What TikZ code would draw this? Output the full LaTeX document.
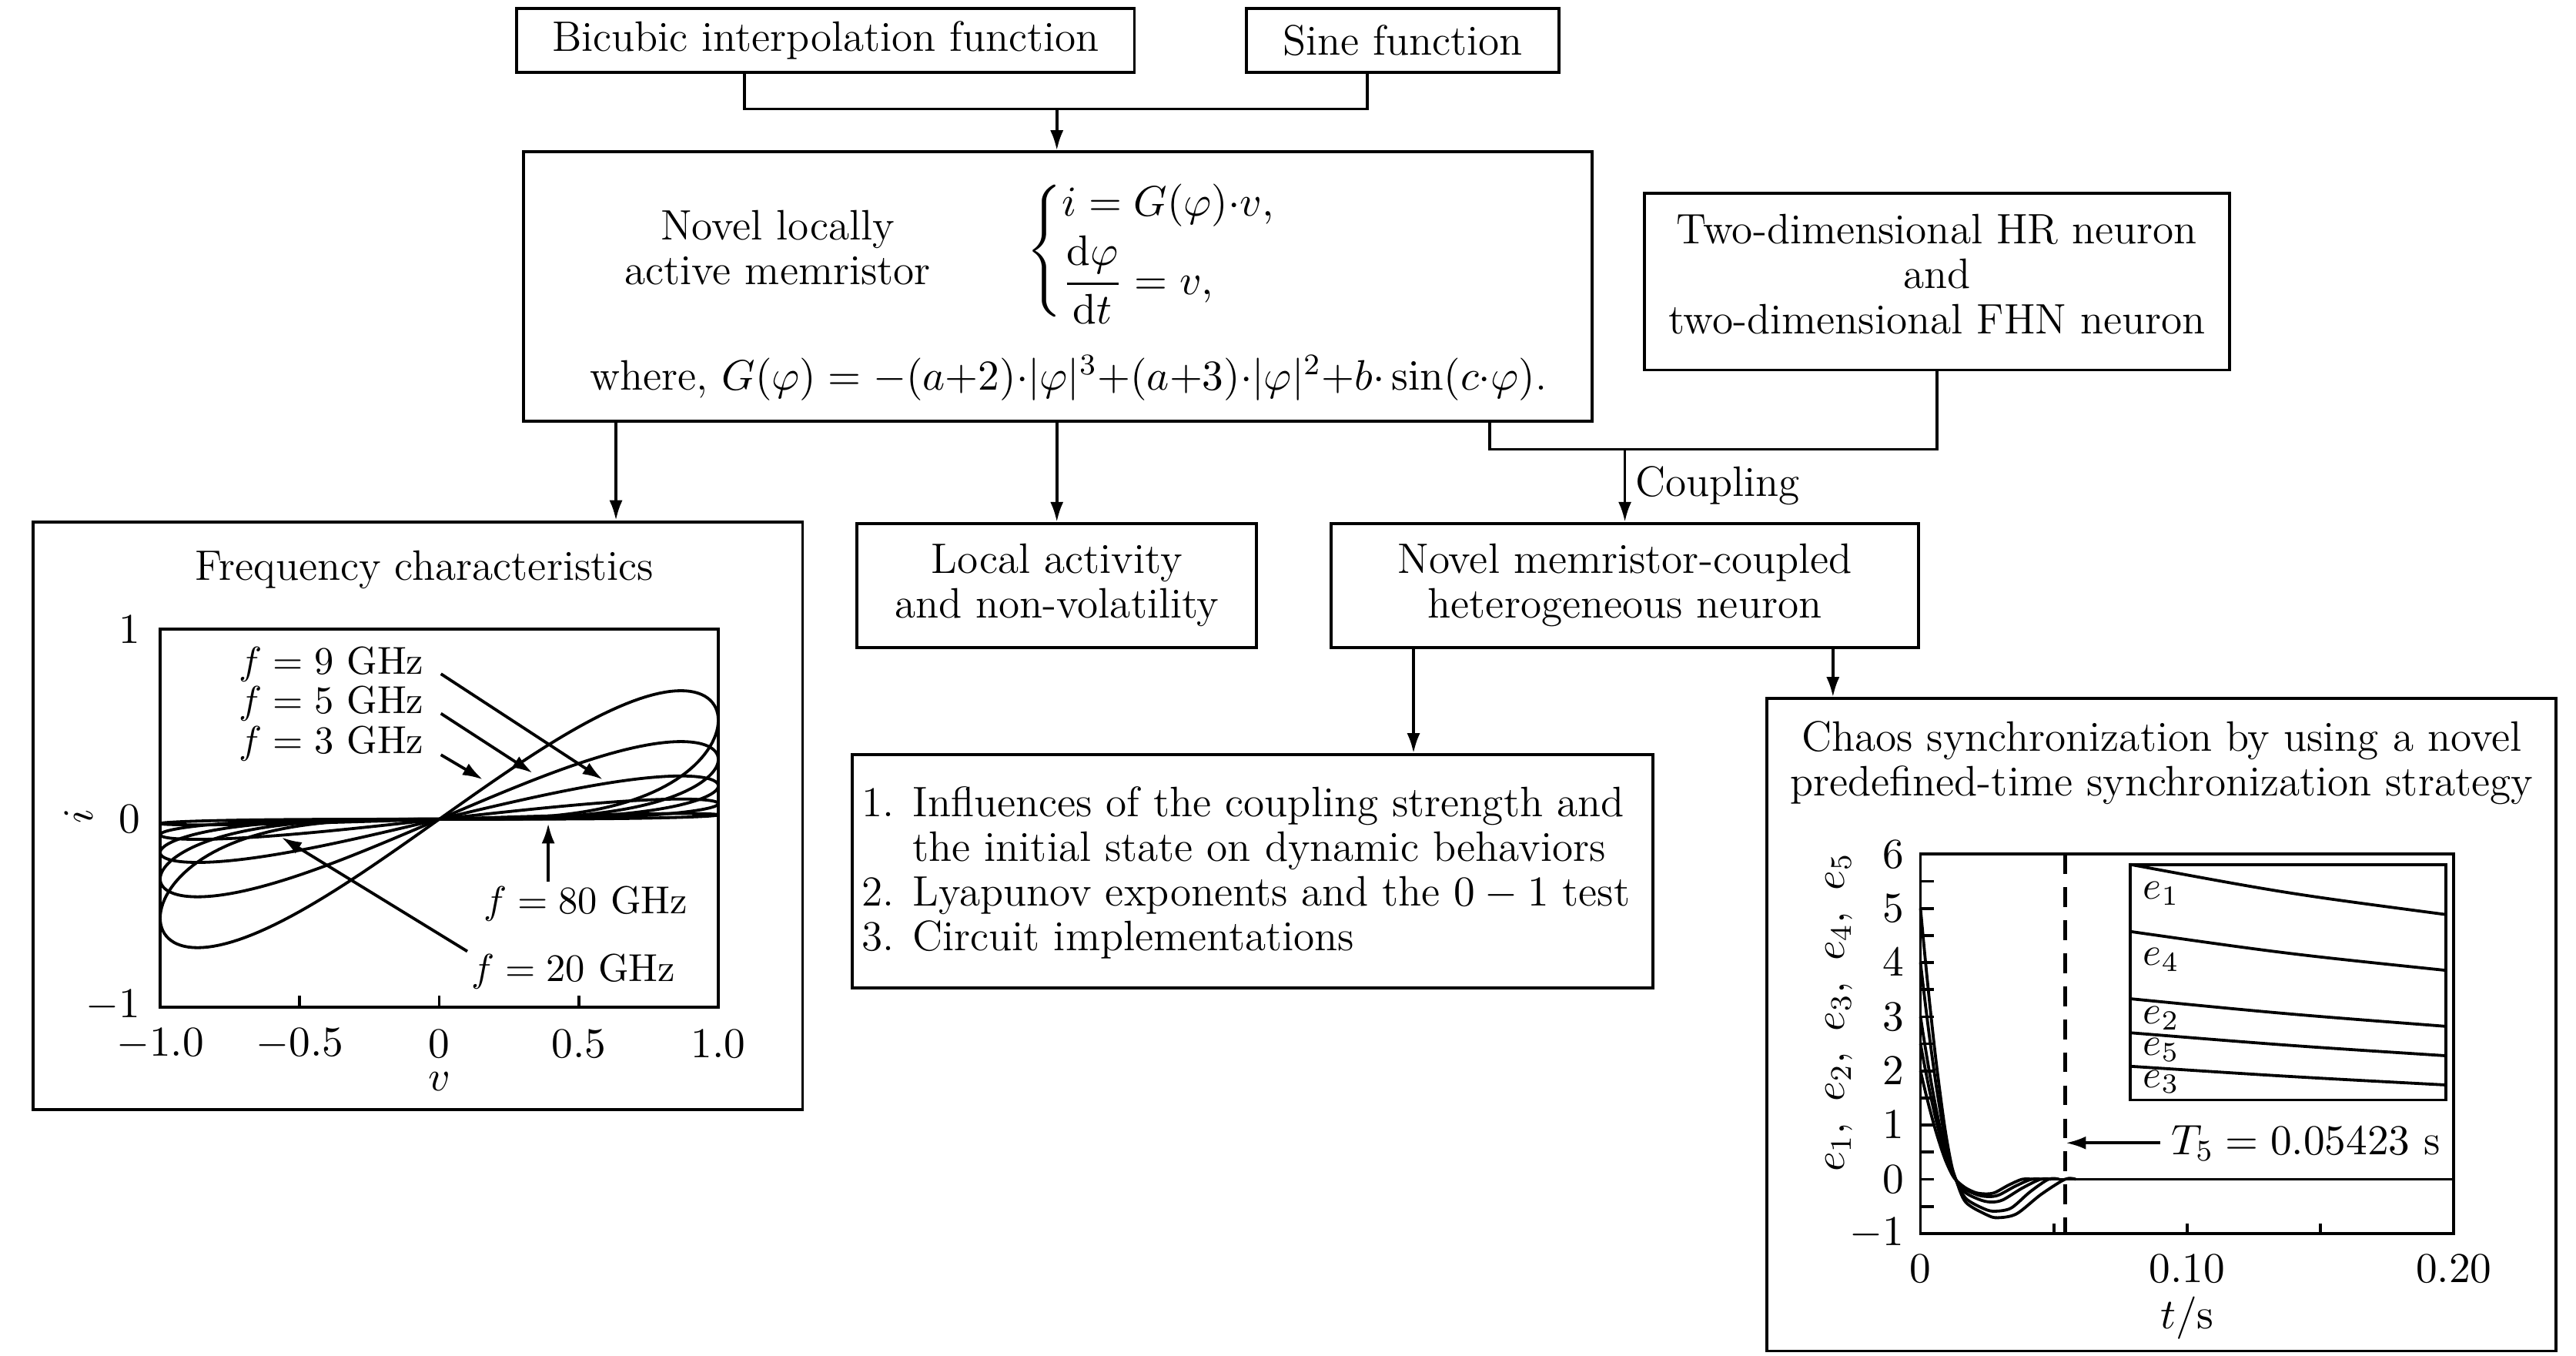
\RequirePackage{fix-cm}
\documentclass[tikz,border=0pt]{standalone}
\usepackage{amsmath}
\usetikzlibrary{arrows.meta}
\def\uu{0.45pt}
\begin{document}
\begin{tikzpicture}[x=0.45pt,y=-0.45pt, line width=0.8pt,
  font=\fontsize{11.6}{12.2}\selectfont,
  box/.style={draw, inner sep=0pt, align=center},
  arr/.style={-{Latex[length=5.5pt,width=3.6pt]}},
  lab/.style={inner sep=0pt},
  flab/.style={inner sep=0pt, anchor=west, font=\fontsize{10.6}{12}\selectfont},
  elb/.style={inner sep=0pt, anchor=west, font=\fontsize{10.8}{12}\selectfont},
  curve/.style={line width=0.8pt, line join=round}]
\useasboundingbox (0,0) rectangle (1560,820.56);

% ---------- boxes ----------
\node[box, minimum width=374*\uu, minimum height=39*\uu] (bic) at (500,24.5) {Bicubic interpolation function};
\node[box, minimum width=189*\uu, minimum height=39*\uu] (sine) at (849.5,24.5) {Sine function};
\node[box, minimum width=647*\uu, minimum height=163*\uu] (form) at (640.5,173.5) {};
\node[lab, align=center] (memname) at (471,150) {Novel locally\\active memristor};
\node[lab, anchor=west] (memeq) at (621,152) {$\begin{cases} i=G(\varphi){\cdot}v,\\[1pt] \dfrac{\mathrm{d}\varphi}{\mathrm{d}t}=v,\end{cases}$};
\node[lab] (memG) at (647,229) {where, $G(\varphi)=-(a{+}2){\cdot}|\varphi|^3{+}(a{+}3){\cdot}|\varphi|^2{+}b{\cdot}\sin(c{\cdot}\varphi)$.};
\node[box, minimum width=354*\uu, minimum height=107*\uu] (hr) at (1173,170.5) {};
\node[lab, align=center] (hrtxt) at (1173,166) {Two-dimensional HR neuron\\and\\two-dimensional FHN neuron};
\node[box, minimum width=466*\uu, minimum height=356*\uu] (freq) at (253,494) {};
\node[box, minimum width=242*\uu, minimum height=75*\uu] (loc) at (640,354.5) {Local activity\\and non-volatility};
\node[box, minimum width=356*\uu, minimum height=75*\uu] (neu) at (984,354.5) {Novel memristor-coupled\\heterogeneous neuron};
\node[box, minimum width=485*\uu, minimum height=141*\uu] (list) at (758.5,527.5) {};
\node[lab, anchor=west, align=left] (listtxt) at (521,528.5) {1. Influences of the coupling strength and\\\hphantom{1. }the initial state on dynamic behaviors\\2. Lyapunov exponents and the $0-1$ test\\3. Circuit implementations};
\node[box, minimum width=478*\uu, minimum height=395*\uu] (chaos) at (1309,620.5) {};

% ---------- connectors ----------
\coordinate (j1) at (640,66);
\draw ([xshift=-49*\uu]bic.south) |- (j1) -| ([xshift=-21.5*\uu]sine.south);
\draw[arr] (j1) -- (j1 |- form.north);
\coordinate (a1) at (373,0);
\draw[arr] (form.south -| a1) -- (freq.north -| a1);
\draw[arr] (form.south -| loc.north) -- (loc.north);
\coordinate (cL) at (902,272);
\draw (form.south -| cL) -- (cL) -| (hr.south);
\draw[arr] (neu.north |- cL) -- (neu.north) node[midway, anchor=west, xshift=-2*\uu] (coup) {Coupling};
\coordinate (a2) at (856,0);
\draw[arr] (neu.south -| a2) -- (list.north -| a2);
\coordinate (a3) at (1110,0);
\draw[arr] (neu.south -| a3) -- (chaos.north -| a3);

% ---------- frequency characteristics ----------
\node[lab] (ftitle) at (257,345) {Frequency characteristics};
\draw (97,381) rectangle (435,610);
\foreach \v in {-0.5,0,0.5} \draw ({266+169*\v},610) -- ({266+169*\v},603);
\begin{scope}
\clip (97,381) rectangle (435,610);
\foreach \A in {0.523,0.316,0.176,0.082,0.023} {
  \draw[curve] plot[domain=0:180,samples=91,variable=\t] ({266+169*sin(\t)},{496-114.5*\A*sin(\t)*(1-cos(\t))});
  \draw[curve] plot[domain=0:180,samples=91,variable=\t] ({266-169*sin(\t)},{496+114.5*\A*sin(\t)*(1-cos(\t))});
}
\end{scope}
\node[lab, anchor=east] (yl1) at (86,381) {$1$};
\node[lab, anchor=east] (yl0) at (86,496) {$0$};
\node[lab, anchor=east] (ylm) at (86,609) {$-1$};
\foreach \v/\s in {-1/-1.0,-0.5/-0.5,0/0,0.5/0.5,1/1.0} \node[lab] at ({266+169*\v},632) {$\s$};
\node[lab] (vlab) at (266,655) {$v$};
\node[lab, rotate=90] (ilab) at (47.5,494) {$i$};
\node[flab] (f9) at (144,402) {$f=9$ GHz};
\node[flab] (f5) at (144,426) {$f=5$ GHz};
\node[flab] (f3) at (144,450) {$f=3$ GHz};
\node[flab] (f80) at (292,547) {$f=80$ GHz};
\node[flab] (f20) at (284.5,588) {$f=20$ GHz};
\coordinate (f9s) at (267,408);  \coordinate (f9e) at (365,472);
\coordinate (f5s) at (267,432);  \coordinate (f5e) at (322.5,468);
\coordinate (f3s) at (267,457);  \coordinate (f3e) at (292.4,472);
\coordinate (f80s) at (332,534); \coordinate (f80e) at (332,498.5);
\coordinate (f20s) at (283,576); \coordinate (f20e) at (170.5,507);
\draw[arr] (f9s) -- (f9e);
\draw[arr] (f5s) -- (f5e);
\draw[arr] (f3s) -- (f3e);
\draw[arr] (f80s) -- (f80e);
\draw[arr] (f20s) -- (f20e);

% ---------- chaos synchronization ----------
\node[lab, align=center] (ctitle) at (1309,462) {Chaos synchronization by using a novel\\predefined-time synchronization strategy};
\draw (1163,517) rectangle (1486,747);
\begin{scope}[shift={(523.35pt,-321.3pt)}, x=0.72675pt, y=14.76pt]
  \foreach \e in {-0.5,0,...,5.5} \draw (0,\e) -- (5,\e);
  \foreach \t in {50,100,150} \draw (\t,-1) -- (\t,-0.82);
  \draw[line width=1.1pt, dash pattern=on 5.4pt off 3.6pt] (54.23,6) -- (54.23,-1);
  \foreach \a/\m/\tm/\tb/\T in {5/-0.71/29/36/54.2, 4/-0.59/28/34/48, 3/-0.42/27/31/45, 2.5/-0.32/26/29.5/41.6, 2/-0.27/25/28/38.1} {
    \draw[curve] plot[smooth, tension=0.5] coordinates {(0,\a) (1.5,{0.842*\a}) (3.5,{0.645*\a}) (6,{0.423*\a}) (9,{0.199*\a}) (11.5,{0.059*\a}) (13.4,-0.02) (17,{0.6*\m}) ({\tm-4},{0.93*\m}) (\tm,\m) (\tb,{0.9*\m}) ({(\tb+\T)/2},{0.4*\m}) (\T,0) ({\T+4},0)};
  }
  \draw[curve] (38,0) -- (200,0);
\end{scope}
\foreach \k in {-1,0,...,6} \node[lab, anchor=east] at (1154,{714-32.8*\k}) {$\k$};
\node[lab] at (1163,768) {$0$};
\node[lab] at (1324.5,768) {$0.10$};
\node[lab] at (1486,768) {$0.20$};
\node[lab] (tlab) at (1324.5,798) {$t/\mathrm{s}$};
\node[lab, rotate=90] (elab) at (1114,613) {$e_1,\ e_2,\ e_3,\ e_4,\ e_5$};
% inset
\draw (1290,523.5) rectangle (1481,666);
\draw[curve] (1290,523.4) .. controls (1385,541) .. (1481,553.7);
\draw[curve] (1290,564) .. controls (1385,577.5) .. (1481,587.5);
\draw[curve] (1290,604.7) .. controls (1385,614) .. (1481,621.4);
\draw[curve] (1290,625.3) .. controls (1385,633) .. (1481,639.2);
\draw[curve] (1290,645.6) .. controls (1385,651.8) .. (1481,656.9);
\node[elb] at (1297,541) {$e_1$};
\node[elb] at (1297,581) {$e_4$};
\node[elb] at (1297,616.5) {$e_2$};
\node[elb] at (1297,635.5) {$e_5$};
\node[elb] at (1297,655) {$e_3$};
\coordinate (t5s) at (1308,692); \coordinate (t5e) at (1251,692);
\draw[arr] (t5s) -- (t5e);
\node[lab, anchor=west] (t5) at (1314,692) {$T_5=0.05423$ s};
\end{tikzpicture}
\end{document}
